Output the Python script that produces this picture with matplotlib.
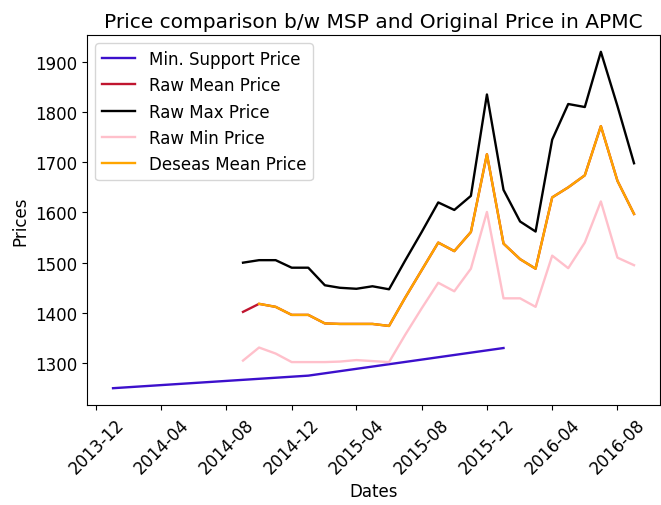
import numpy as np
import pandas as pd
import matplotlib
matplotlib.use('Agg')
import matplotlib.pyplot as plt
import matplotlib.dates as mdates

# MSP (yearly) values
msp_dates = pd.to_datetime(['2014-01-01', '2015-01-01', '2016-01-01'])
msp_values = [1250, 1275, 1330]

# APMC monthly prices, Sep 2014 - Sep 2016
apmc_dates = pd.date_range('2014-09-01', '2016-09-01', freq='MS')
raw_max = [1500, 1505, 1505, 1490, 1490, 1455, 1450, 1448, 1453, 1447, 1504, 1561, 1620,
           1605, 1633, 1835, 1645, 1582, 1562, 1745, 1816, 1810, 1920, 1812, 1698]
raw_mean = [1402, 1418, 1412, 1396, 1396, 1379, 1378, 1378, 1378, 1374, 1430, 1485, 1540,
            1523, 1561, 1716, 1538, 1507, 1488, 1630, 1650, 1674, 1772, 1663, 1597]
raw_min = [1305, 1331, 1319, 1302, 1302, 1302, 1303, 1306, 1304, 1302, 1356, 1409, 1460,
           1443, 1488, 1601, 1429, 1429, 1412, 1514, 1489, 1540, 1622, 1510, 1495]
deseas_mean = [np.nan] + raw_mean[1:]

plt.rcParams['font.size'] = 12
fig = plt.figure(figsize=(6.61, 5.06), dpi=100)
ax = fig.add_axes([0.1316, 0.1976, 0.867, 0.7313])

ax.plot(msp_dates, msp_values, color='#3c10cc', lw=1.7, label='Min. Support Price')
ax.plot(apmc_dates, raw_mean, color='#c0152f', lw=1.7, label='Raw Mean Price')
ax.plot(apmc_dates, raw_max, color='black', lw=1.7, label='Raw Max Price')
ax.plot(apmc_dates, raw_min, color='pink', lw=1.7, label='Raw Min Price')
ax.plot(apmc_dates, deseas_mean, color='orange', lw=1.7, label='Deseas Mean Price')

ax.xaxis.set_major_locator(mdates.MonthLocator(bymonth=[4, 8, 12]))
ax.xaxis.set_major_formatter(mdates.DateFormatter('%Y-%m'))
plt.setp(ax.get_xticklabels(), rotation=45)

ax.set_title('Price comparison b/w MSP and Original Price in APMC', fontsize=14.5)
ax.set_xlabel('Dates')
ax.set_ylabel('Prices')
ax.legend(loc='upper left')

fig.savefig('out.png', dpi=100)
